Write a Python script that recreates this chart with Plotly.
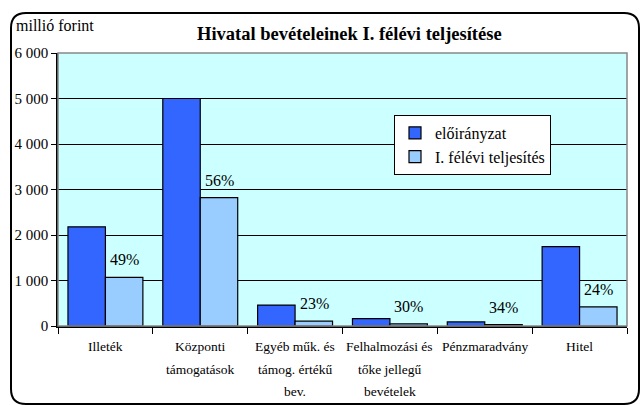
import plotly.graph_objects as go

categories = ["Illeték", "Központi\ntámogatások", "Egyéb műk. és\ntámog. értékű\nbev.",
              "Felhalmozási és\ntőke jellegű\nbevételek", "Pénzmaradvány", "Hitel"]
planned = [2180, 5000, 460, 160, 90, 1745]
actual = [1070, 2820, 105, 48, 31, 420]
pct_labels = ["49%", "56%", "23%", "30%", "34%", "24%"]
series_names = ["előirányzat", "I. félévi teljesítés"]
title_text = "Hivatal bevételeinek I. félévi teljesítése"
unit_text = "millió forint"

W, H = 640, 405
L, R, T, B = 58, 13, 53, 79
PW, PH = W - L - R, H - T - B
FONT = "Liberation Serif"

def px(x):
    return (x - L) / PW

def py(y):
    return (H - B - y) / PH

cat_keys = [c.replace("\n", " ") for c in categories]

fig = go.Figure()
fig.add_trace(go.Bar(x=cat_keys, y=planned, name=series_names[0],
                     marker=dict(color="#3366FF", line=dict(color="black", width=1.2))))
fig.add_trace(go.Bar(x=cat_keys, y=actual, name=series_names[1],
                     marker=dict(color="#99CCFF", line=dict(color="black", width=1.2))))

annotations = []
for k, v, lab in zip(cat_keys, actual, pct_labels):
    annotations.append(dict(x=k, y=v, xref="x", yref="y", text=lab, showarrow=False,
                            xshift=19, yshift=7, yanchor="bottom",
                            font=dict(family=FONT, size=16, color="black")))
for k, c in zip(cat_keys, categories):
    for i, line in enumerate(c.split("\n")):
        annotations.append(dict(x=k, y=0, xref="x", yref="paper", text=line, showarrow=False,
                                yanchor="middle", yshift=-(20.5 + 22.7 * i),
                                font=dict(family=FONT, size=13.5, color="black")))
annotations.append(dict(x=px(349), y=py(34), xref="paper", yref="paper", text="<b>" + title_text + "</b>",
                        showarrow=False, xanchor="center", yanchor="middle",
                        font=dict(family=FONT, size=18.5, color="black")))
annotations.append(dict(x=px(14), y=py(26), xref="paper", yref="paper", text=unit_text,
                        showarrow=False, xanchor="left", yanchor="middle",
                        font=dict(family=FONT, size=16, color="black")))

x0, y0, x1, y1, r = px(11), py(13), px(639), py(404), 15
rx, ry = r / PW, r / PH
border_path = (f"M {x0+rx},{y0} L {x1-rx},{y0} Q {x1},{y0} {x1},{y0-ry} "
               f"L {x1},{y1+ry} Q {x1},{y1} {x1-rx},{y1} L {x0+rx},{y1} "
               f"Q {x0},{y1} {x0},{y1+ry} L {x0},{y0-ry} Q {x0},{y0} {x0+rx},{y0} Z")

shapes = [
    dict(type="path", path=border_path, xref="paper", yref="paper",
         line=dict(color="black", width=2), layer="below"),
    dict(type="rect", x0=0, x1=1, y0=0, y1=1, xref="paper", yref="paper",
         line=dict(color="#888888", width=1.5), layer="above"),
]

fig.update_layout(
    width=W, height=H,
    margin=dict(l=L, r=R, t=T, b=B),
    paper_bgcolor="white", plot_bgcolor="#CCFFFF",
    barmode="group", bargap=0.21, bargroupgap=0,
    separators=", ",
    font=dict(family=FONT, size=13, color="black"),
    showlegend=True,
    legend=dict(x=px(394), y=py(115), xanchor="left", yanchor="top",
                bgcolor="white", bordercolor="black", borderwidth=1,
                font=dict(family=FONT, size=16, color="black"),
                itemwidth=30),
    annotations=annotations,
    shapes=shapes,
    xaxis=dict(type="category", showticklabels=False, tickson="boundaries",
               ticks="outside", ticklen=6, tickcolor="black", tickwidth=1,
               showline=True, linecolor="black", linewidth=1.5, showgrid=False,
               fixedrange=True),
    yaxis=dict(range=[0, 6000], tickvals=[0, 1000, 2000, 3000, 4000, 5000, 6000],
               tickformat=",d", ticks="outside", ticklen=5, tickcolor="black",
               showline=True, linecolor="black", linewidth=1.5,
               showgrid=True, gridcolor="black", gridwidth=1, zeroline=False,
               tickfont=dict(family=FONT, size=15, color="black"),
               fixedrange=True),
)

fig.write_html("out.html", config={"displayModeBar": False},
               post_script="document.body.style.margin='0';document.body.style.overflow='hidden';")
